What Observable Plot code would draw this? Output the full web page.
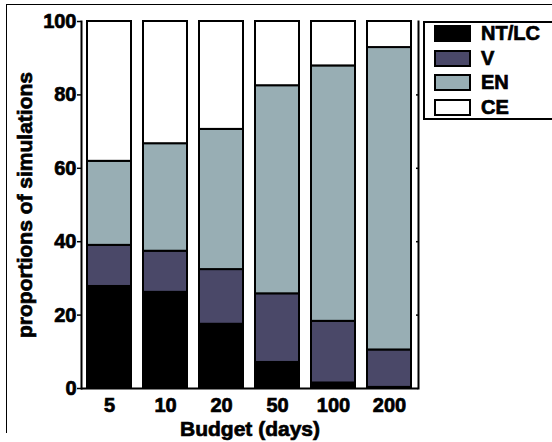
<!DOCTYPE html>
<html>
<head>
<meta charset="utf-8">
<script src="https://cdn.jsdelivr.net/npm/d3@7"></script>
<script src="https://cdn.jsdelivr.net/npm/@observablehq/plot@0.6"></script>
<style>
  html, body { margin: 0; padding: 0; background: white; overflow: hidden; }
  #wrap { position: relative; width: 552px; height: 442px; overflow: hidden; font-family: "Liberation Sans", Arial, sans-serif; }
  #border { position: absolute; left: 6px; top: 4px; width: 546px; height: 429px; border-top: 1.5px solid black; border-left: 1.5px solid black; box-sizing: border-box; pointer-events: none; }
  #legend { position: absolute; left: 423px; top: 21px; width: 140px; height: 99px; border: 2px solid black; border-right: none; box-sizing: border-box; background: white; }
  .item { position: absolute; left: 9px; height: 18px; }
  .sw { position: absolute; left: 0; top: 0; width: 37px; height: 17px; border: 2px solid black; box-sizing: border-box; }
  .lab { position: absolute; left: 47px; top: -4px; font-weight: bold; font-size: 20px; line-height: 24px; white-space: nowrap; color: black; -webkit-text-stroke: 0.7px black; }
  #chart svg text { stroke: black; stroke-width: 0.7px; }
</style>
</head>
<body>
<div id="wrap">
  <div id="chart"></div>
  <div id="border"></div>
  <div id="legend"></div>
</div>
<script>
const budgets = ["5", "10", "20", "50", "100", "200"];
const categories = ["NT/LC", "V", "EN", "CE"];
const colors = ["#000000", "#4a4868", "#98aeb4", "#ffffff"];
// proportions (%) per budget for each outcome
const ntlc = [27.8, 26.2, 17.5, 7.1, 1.5, 0.3];
const v    = [11.2, 11.2, 14.9, 18.7, 16.8, 10.2];
const en   = [22.9, 29.3, 38.2, 56.7, 69.6, 82.4];
const ce   = [38.1, 33.3, 29.4, 17.5, 12.1, 7.1];
const yTicks = [0, 20, 40, 60, 80, 100];

const series = {"NT/LC": ntlc, "V": v, "EN": en, "CE": ce};
const data = [];
budgets.forEach((b, i) => {
  categories.forEach(c => data.push({budget: b, cat: c, value: series[c][i]}));
});

const font = {fontFamily: '"Liberation Sans", Arial, sans-serif', fontWeight: "bold", fontSize: "20px", color: "black", background: "white", overflow: "visible"};

const chart = Plot.plot({
  width: 552,
  height: 442,
  marginLeft: 81,
  marginRight: 134,
  marginTop: 21,
  marginBottom: 54,
  style: font,
  x: {domain: budgets, paddingInner: 0.21, paddingOuter: 0.08},
  y: {domain: [0, 100]},
  color: {domain: categories, range: colors},
  marks: [
    Plot.barY(data, {x: "budget", y: "value", fill: "cat", order: categories, stroke: "black", strokeWidth: 2}),
    Plot.axisY({ticks: yTicks, tickSize: 4, tickPadding: 1, strokeWidth: 1.5, label: null, fontSize: 20}),
    Plot.axisY({ticks: [], label: "proportions of simulations", labelArrow: "none", labelAnchor: "center", labelOffset: 64, fontSize: 21, dy: -3}),
    Plot.axisY({anchor: "right", ticks: [20, 40, 60, 80], tickSize: 3, dx: -3, tickFormat: () => "", label: null, strokeWidth: 1.5}),
    Plot.axisX({tickSize: 0, tickPadding: 9, label: null, fontSize: 20}),
    Plot.axisX({ticks: [], label: "Budget (days)", labelArrow: "none", labelAnchor: "center", labelOffset: 47, fontSize: 21}),
    Plot.frame({anchor: "left", stroke: "black", strokeWidth: 2}),
    Plot.frame({anchor: "right", stroke: "black", strokeWidth: 2}),
    Plot.ruleY([0], {stroke: "black", strokeWidth: 2})
  ]
});
document.getElementById("chart").appendChild(chart);

const legend = document.getElementById("legend");
categories.forEach((c, i) => {
  const item = document.createElement("div");
  item.className = "item";
  item.style.top = (2 + i * 24.5) + "px";
  const sw = document.createElement("div");
  sw.className = "sw";
  sw.style.background = colors[i];
  const lab = document.createElement("div");
  lab.className = "lab";
  lab.textContent = c;
  item.appendChild(sw);
  item.appendChild(lab);
  legend.appendChild(item);
});
</script>
</body>
</html>
